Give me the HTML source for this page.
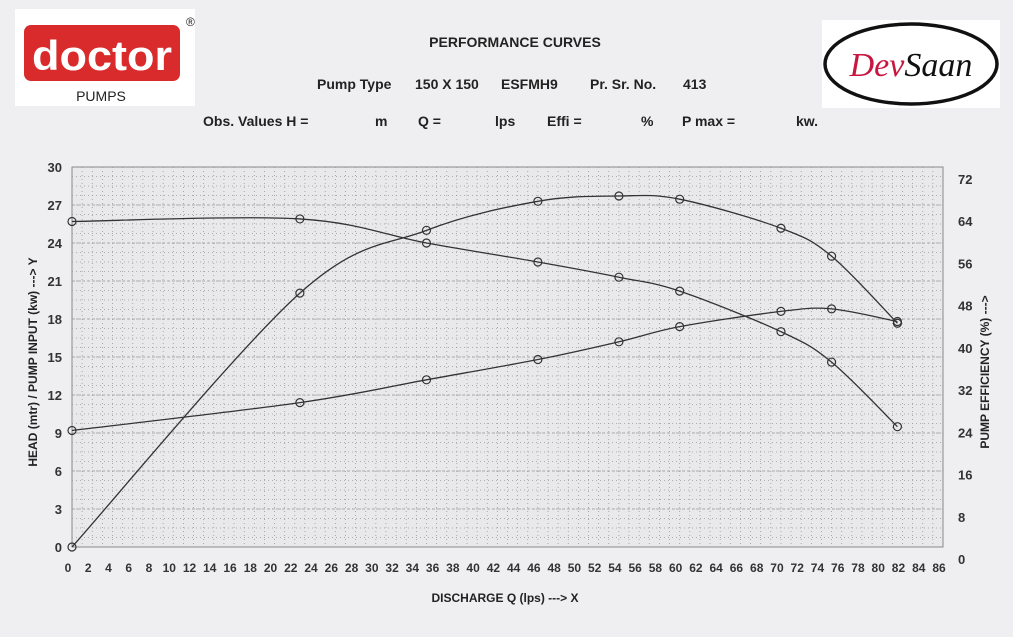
<!DOCTYPE html>
<html><head><meta charset="utf-8"><style>
body{margin:0;background:#f0f0f2;}
svg{display:block;font-family:"Liberation Sans",sans-serif;}
</style></head><body>
<svg width="1013" height="637" viewBox="0 0 1013 637">
<rect x="0" y="0" width="1013" height="637" fill="#efeff1"/>
<g>
<rect x="15" y="9" width="180" height="97" fill="#ffffff"/>
<rect x="24" y="25" width="156" height="56" rx="7" fill="#d92b2b"/>
<text x="102" y="70" font-size="42" font-weight="bold" fill="#fff" text-anchor="middle" textLength="140" lengthAdjust="spacingAndGlyphs">doctor</text>
<text x="186" y="26" font-size="12" fill="#222">®</text>
<text x="101" y="101" font-size="14" fill="#222" text-anchor="middle">PUMPS</text>
</g>
<g>
<rect x="822" y="20" width="178" height="88" fill="#ffffff"/>
<ellipse cx="911" cy="64" rx="86" ry="40" fill="none" stroke="#111" stroke-width="3.5"/>
<text x="911" y="76" font-size="34" font-family="Liberation Serif,serif" font-style="italic" text-anchor="middle"><tspan fill="#c8163f">Dev</tspan><tspan fill="#111">Saan</tspan></text>
</g>
<text x="515" y="47" font-size="14" font-weight="bold" fill="#222" text-anchor="middle">PERFORMANCE CURVES</text>
<g font-size="14" font-weight="bold" fill="#222">
<text x="317" y="89">Pump Type</text><text x="415" y="89">150 X 150</text><text x="501" y="89">ESFMH9</text>
<text x="590" y="89">Pr. Sr. No.</text><text x="683" y="89">413</text>
</g>
<g font-size="14" font-weight="bold" fill="#222">
<text x="203" y="126">Obs. Values H =</text><text x="375" y="126">m</text><text x="418" y="126">Q =</text>
<text x="495" y="126">lps</text><text x="547" y="126">Effi =</text><text x="641" y="126">%</text>
<text x="682" y="126">P max =</text><text x="796" y="126">kw.</text>
</g>
<g id="chart"></g>
</svg>
<script>
const qValues=[0,22.5,35,46,54,60,70,75,81.5];
const headValues=[25.7,25.9,24,22.5,21.3,20.2,17,14.6,9.5];
const powerValues=[9.2,11.4,13.2,14.8,16.2,17.4,18.6,18.8,17.8];
const effValues=[0,48.1,60.0,65.5,66.5,65.9,60.4,55.1,42.4];
const xTicks=[0,2,4,6,8,10,12,14,16,18,20,22,24,26,28,30,32,34,36,38,40,42,44,46,48,50,52,54,56,58,60,62,64,66,68,70,72,74,76,78,80,82,84,86];
const yLeftTicks=[0,3,6,9,12,15,18,21,24,27,30];
const yRightTicks=[0,8,16,24,32,40,48,56,64,72];

const NS="http://www.w3.org/2000/svg";
const g=document.getElementById('chart');
const X0=72,X1=943,Q1=86;
const sx=q=>X0+q*(X1-X0)/Q1;
const syL=v=>547-v*(547-167)/30;
const syR=v=>559-v*(559-179)/72;
const syE=v=>syL(v*30/72);
function mk(t,a,p){const e=document.createElementNS(NS,t);for(const k in a)e.setAttribute(k,a[k]);(p||g).appendChild(e);return e;}

const grid=mk('g',{});


mk('rect',{x:X0,y:167,width:X1-X0,height:380,fill:'#e9e9eb',stroke:'#888','stroke-width':1},grid);
for(let q=1;q<Q1;q++){mk('line',{x1:sx(q),x2:sx(q),y1:167,y2:547,stroke:'#999','stroke-width':0.8,'stroke-dasharray':'1 3'},grid);}
for(let v=0.75;v<30;v+=0.75){mk('line',{x1:X0,x2:X1,y1:syL(v),y2:syL(v),stroke:'#999','stroke-width':0.8,'stroke-dasharray':'1 3'},grid);}
for(let v=3;v<30;v+=3){mk('line',{x1:X0,x2:X1,y1:syL(v),y2:syL(v),stroke:'#999','stroke-width':0.8,'stroke-dasharray':'3 2'},grid);}

xTicks.forEach(t=>{const e=mk('text',{x:sx(t)-4,y:572,'font-size':12,'font-weight':'bold',fill:'#333','text-anchor':'middle'});e.textContent=t;

});
yLeftTicks.forEach(t=>{const e=mk('text',{x:62,y:syL(t)+5,'font-size':13,'font-weight':'bold',fill:'#333','text-anchor':'end'});e.textContent=t;

});
yRightTicks.forEach(t=>{const e=mk('text',{x:958,y:syR(t)+5,'font-size':13,'font-weight':'bold',fill:'#333','text-anchor':'start'});e.textContent=t;

});

let t1=mk('text',{x:505,y:602,'font-size':12,'font-weight':'bold',fill:'#222','text-anchor':'middle'});t1.textContent='DISCHARGE Q (lps) ---> X';


let t2=mk('text',{x:0,y:0,'font-size':12,'font-weight':'bold',fill:'#222','text-anchor':'middle',transform:'translate(37,362) rotate(-90)'});t2.textContent='HEAD (mtr)  /  PUMP INPUT (kw) ---> Y';


let t3=mk('text',{x:0,y:0,'font-size':12,'font-weight':'bold',fill:'#222','text-anchor':'middle',transform:'translate(989,372) rotate(-90)'});t3.textContent='PUMP EFFICIENCY (%) --->';



function smooth(pts){let d='M'+pts[0][0]+','+pts[0][1];
for(let i=0;i<pts.length-1;i++){const p0=pts[i-1]||pts[i],p1=pts[i],p2=pts[i+1],p3=pts[i+2]||p2;
const c1=[p1[0]+(p2[0]-p0[0])/6,p1[1]+(p2[1]-p0[1])/6],c2=[p2[0]-(p3[0]-p1[0])/6,p2[1]-(p3[1]-p1[1])/6];
d+=' C'+c1+' '+c2+' '+p2;}return d;}
function series(vals,sy,name){
const pts=qValues.map((q,i)=>[sx(q),sy(vals[i])]);
const p=mk('path',{d:smooth(pts),fill:'none',stroke:'#333','stroke-width':1.3});


pts.forEach(pt=>{const c=mk('circle',{cx:pt[0],cy:pt[1],r:4,fill:'none',stroke:'#333','stroke-width':1.2});

});}
series(headValues,syL,'head');
series(powerValues,syL,'power-input');
series(effValues,syE,'efficiency');
</script>
</body></html>
